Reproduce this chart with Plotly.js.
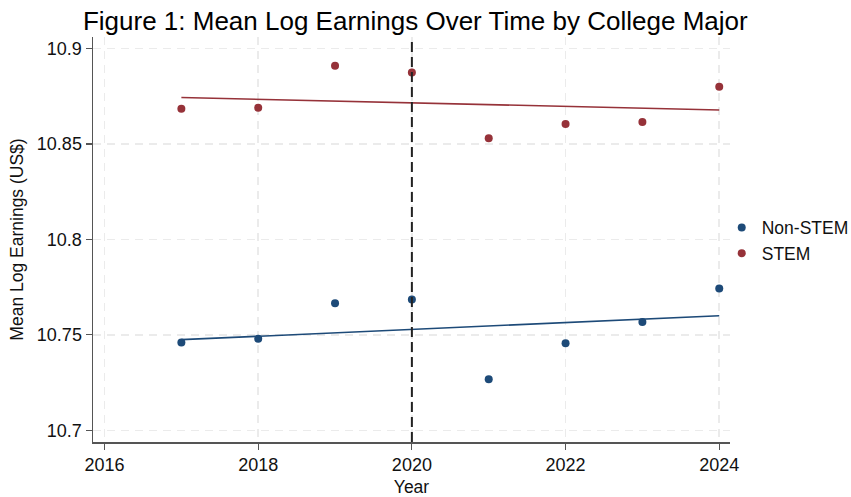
<!DOCTYPE html>
<html>
<head>
<meta charset="utf-8">
<script src="https://cdn.plot.ly/plotly-3.0.1.min.js"></script>
<style>html,body{margin:0;padding:0;background:#fff;}#chart{width:851px;height:497px;}</style>
</head>
<body>
<div id="chart"></div>
<script>
const years = [2017, 2018, 2019, 2020, 2021, 2022, 2023, 2024];
const nonStem = [10.7460, 10.7480, 10.7666, 10.7685, 10.7267, 10.7456, 10.7568, 10.7743];
const stem = [10.8684, 10.8689, 10.8909, 10.8874, 10.8530, 10.8605, 10.8615, 10.8799];
const fitYears = [2017, 2024];
const nonStemFit = [10.7475, 10.7600];
const stemFit = [10.8743, 10.8678];
const policyYear = 2020;
const yTicks = [10.7, 10.75, 10.8, 10.85, 10.9];
const yTickText = ["10.7", "10.75", "10.8", "10.85", "10.9"];
const xTicks = [2016, 2018, 2020, 2022, 2024];

const blue = "#1d4a78";
const red = "#963239";
const FONT = "Liberation Sans, Arial, Helvetica, sans-serif";

const traces = [
  {x: years, y: nonStem, type: "scatter", mode: "markers", name: "Non-STEM",
   marker: {color: blue, size: 8}},
  {x: years, y: stem, type: "scatter", mode: "markers", name: "STEM",
   marker: {color: red, size: 8}},
  {x: fitYears, y: nonStemFit, type: "scatter", mode: "lines", showlegend: false,
   line: {color: blue, width: 1.6}, hoverinfo: "skip"},
  {x: fitYears, y: stemFit, type: "scatter", mode: "lines", showlegend: false,
   line: {color: red, width: 1.6}, hoverinfo: "skip"}
];

const axisCommon = {
  showgrid: true, gridcolor: "#ebebeb", gridwidth: 1.5, griddash: "8px,6px",
  zeroline: false, showline: true, linecolor: "#555", linewidth: 1.5,
  ticks: "outside", ticklen: 6, tickcolor: "#555", tickwidth: 1.2,
  tickfont: {family: FONT, size: 18, color: "#111"}
};

const layout = {
  width: 851, height: 497,
  paper_bgcolor: "#fff", plot_bgcolor: "#fff",
  margin: {l: 93, r: 121, t: 37, b: 55, pad: 0, autoexpand: false},
  font: {family: FONT, color: "#111"},
  title: {text: "Figure 1: Mean Log Earnings Over Time by College Major",
          font: {family: FONT, size: 26, color: "#000"},
          x: 0.488, xref: "container", xanchor: "center",
          y: 0.958, yref: "container", yanchor: "middle"},
  xaxis: Object.assign({}, axisCommon, {
    range: [2015.85, 2024.14], tickvals: xTicks, ticktext: xTicks.map(String),
    title: {text: "Year", standoff: 6, font: {family: FONT, size: 17.5, color: "#111"}}
  }),
  yaxis: Object.assign({}, axisCommon, {
    range: [10.6939, 10.906], tickvals: yTicks, ticktext: yTickText,
    title: {text: "Mean Log Earnings (US$)", standoff: 8, font: {family: FONT, size: 17.5, color: "#111"}}
  }),
  legend: {x: 0.987, xanchor: "left", y: 0.4975, yanchor: "middle",
           font: {family: FONT, size: 17.5, color: "#111"}, bgcolor: "rgba(0,0,0,0)",
           itemsizing: "trace"},
  shapes: [{type: "line", xref: "x", yref: "paper", x0: policyYear, x1: policyYear, y0: 0, y1: 1,
            line: {color: "#222", width: 2, dash: "10px,5px"}}],
  showlegend: true
};

Plotly.newPlot("chart", traces, layout, {staticPlot: true, displayModeBar: false});
</script>
</body>
</html>
